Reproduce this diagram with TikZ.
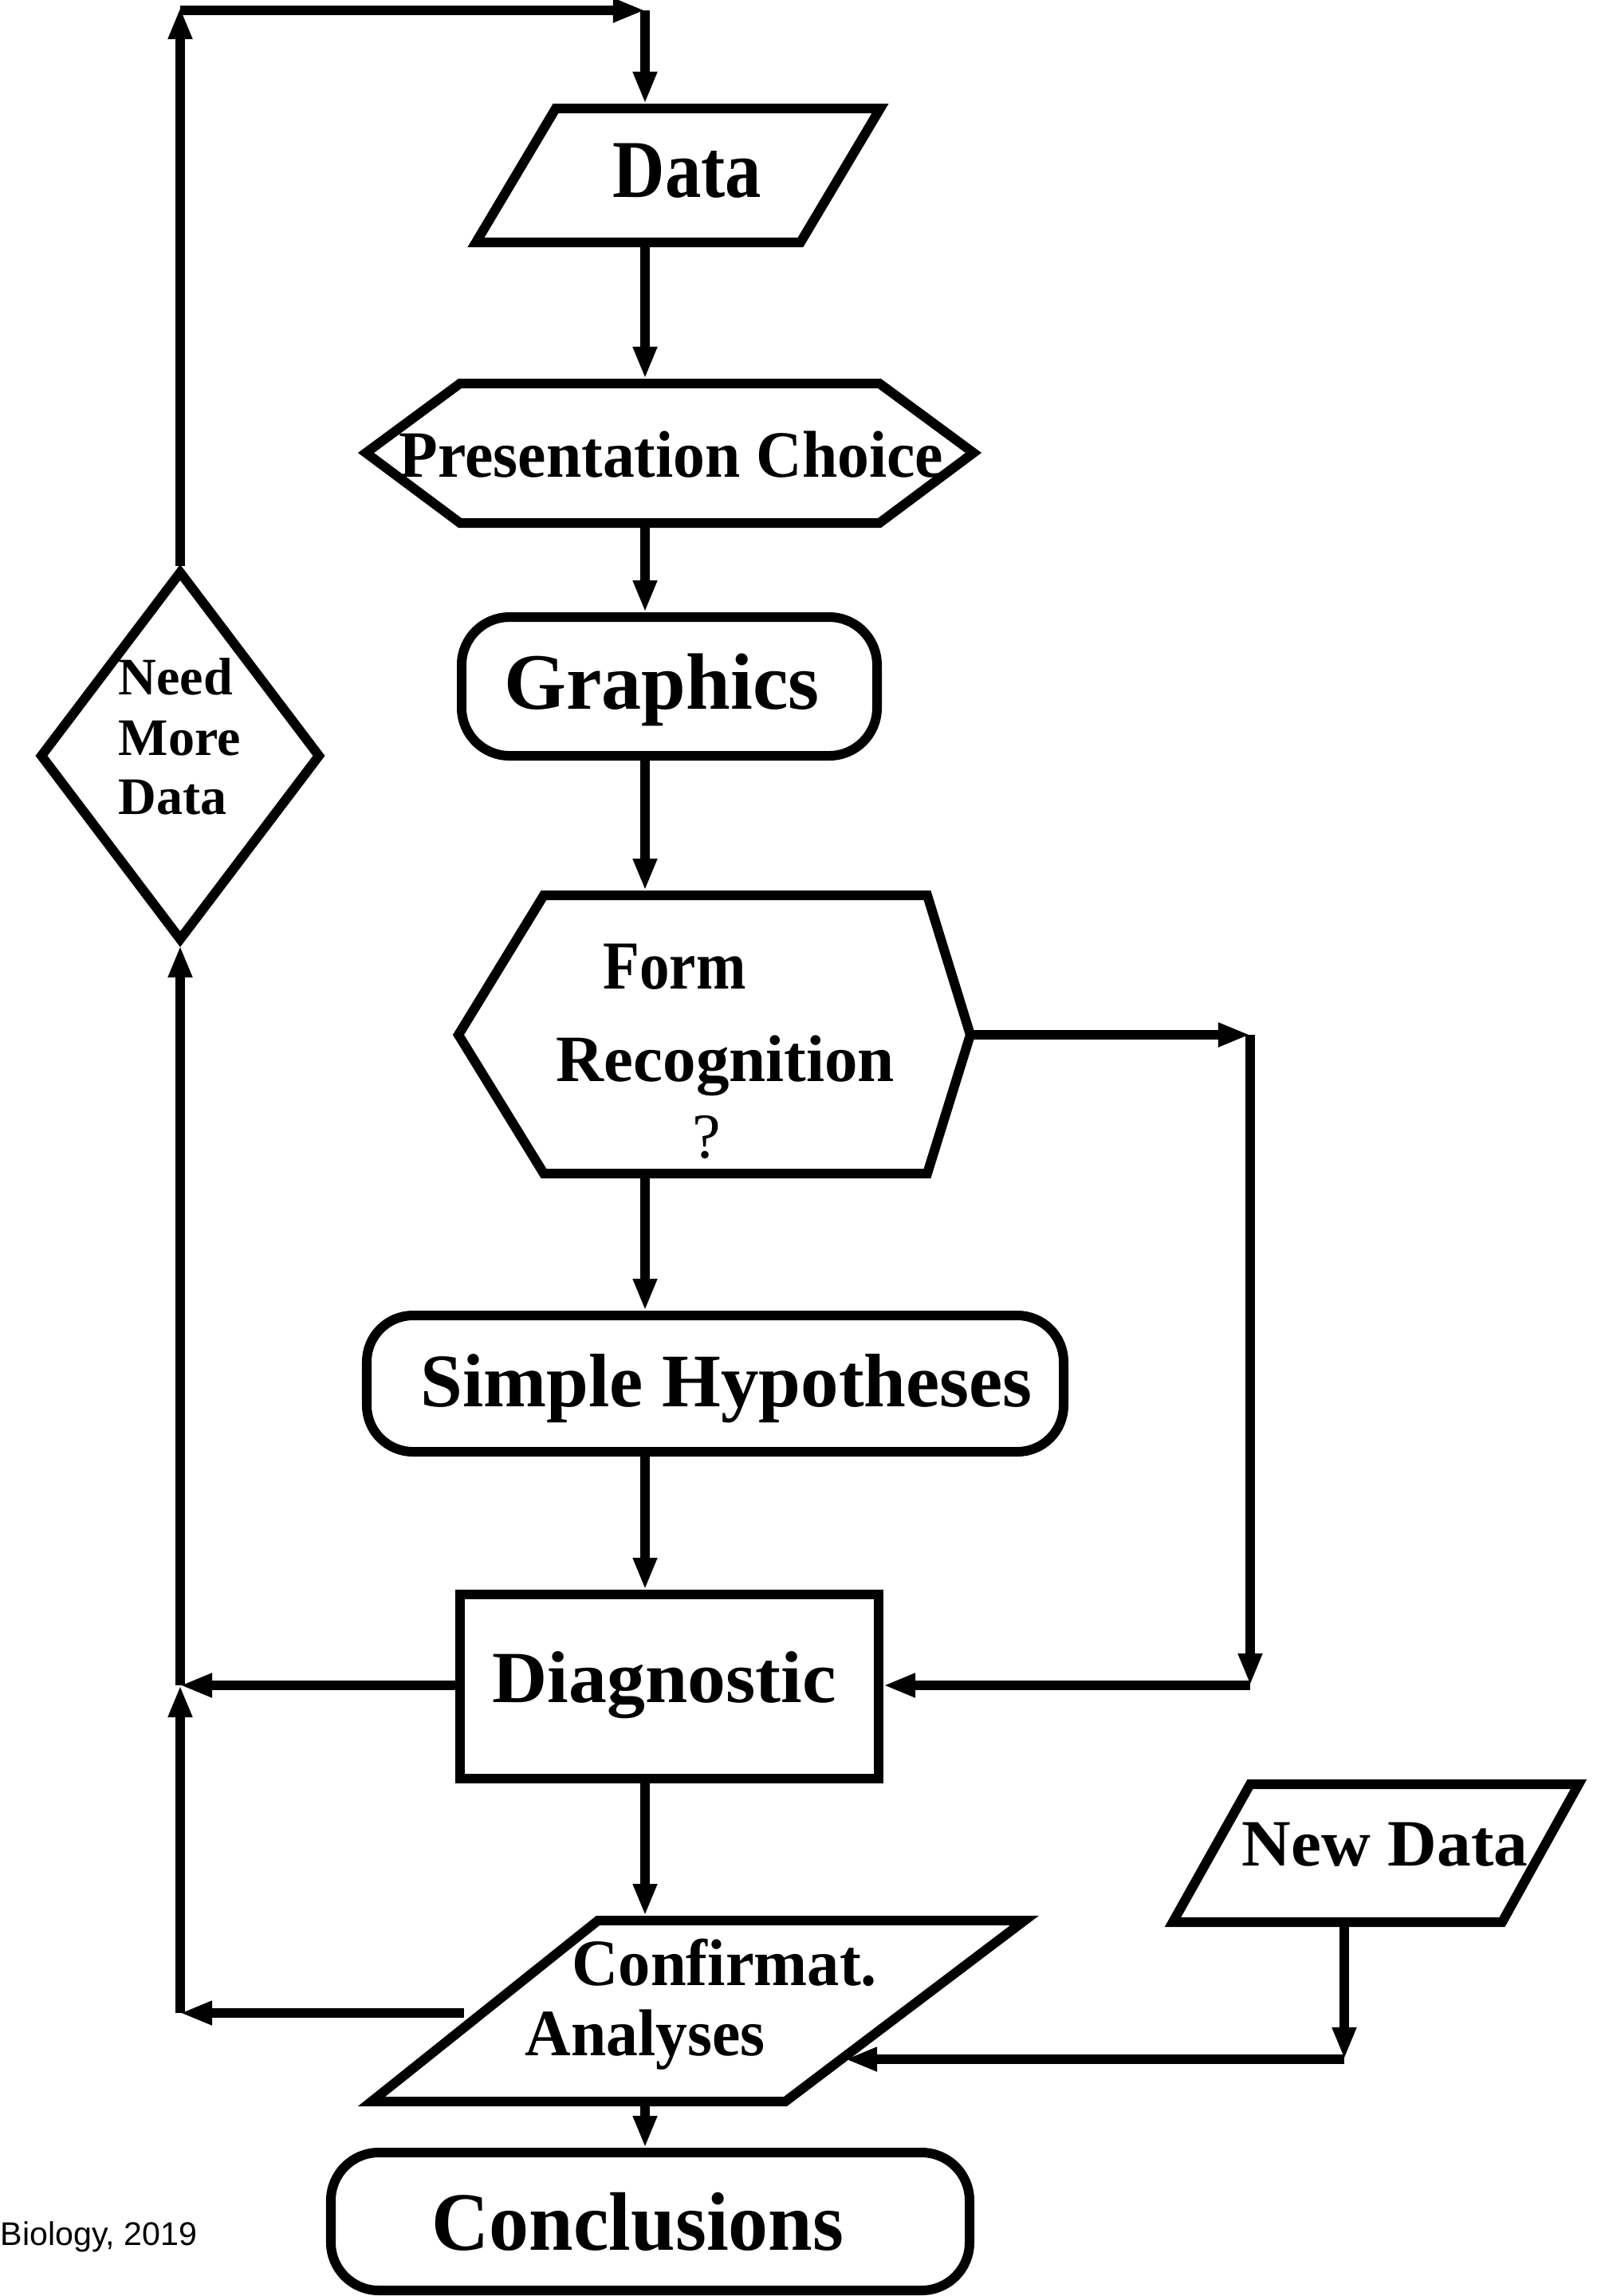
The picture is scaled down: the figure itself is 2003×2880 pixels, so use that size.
\documentclass[tikz,border=0pt]{standalone}
\usepackage{fontspec}
\usepackage{graphicx}
\setmainfont{Liberation Serif}
\newfontfamily\biofont{Liberation Sans}
\usetikzlibrary{arrows.meta}
\begin{document}
\begin{tikzpicture}[x=0.01cm,y=-0.01cm,
  shapeline/.style={draw=black, line width=0.12cm, line join=miter},
  arr/.style={draw=black, line width=0.12cm, -{Triangle[length=0.4cm,width=0.28cm]}},
  lbl/.style={inner sep=0pt, anchor=base, font=\bfseries\fontsize{#1}{#1}\selectfont},
  lblw/.style={inner sep=0pt, anchor=base west, font=\bfseries\fontsize{#1}{#1}\selectfont}
]
\useasboundingbox (0,0) rectangle (2003,2880);

% ---------- shapes ----------
% Data
\draw[shapeline] (697,136) -- (1104,136) -- (1004,304) -- (597,304) -- cycle;
% Presentation Choice
\draw[shapeline] (459,568) -- (577,481) -- (1103,481) -- (1221,568) -- (1103,656) -- (577,656) -- cycle;
% Graphics
\draw[shapeline, rounded corners=0.6cm] (579,774) rectangle (1100,948);
% Need More Data diamond
\draw[shapeline] (226,718) -- (400,948) -- (226,1178) -- (52,948) -- cycle;
% Form Recognition
\draw[shapeline] (682,1123) -- (1163,1123) -- (1217,1298) -- (1163,1472) -- (682,1472) -- (575,1298) -- cycle;
% Simple Hypotheses
\draw[shapeline, rounded corners=0.58cm] (460,1650) rectangle (1334,1821);
% Diagnostic
\draw[shapeline] (577,2000) rectangle (1102,2231);
% New Data
\draw[shapeline] (1568,2238) -- (1980,2238) -- (1884,2411) -- (1471,2411) -- cycle;
% Confirmat. Analyses
\draw[shapeline] (750,2409) -- (1285,2409) -- (985,2636) -- (466,2636) -- cycle;
% Conclusions
\draw[shapeline, rounded corners=0.6cm] (415,2700) rectangle (1216,2873);

% ---------- texts ----------
\node[lbl=29.3] (data) at (862,247) {\scalebox{0.88}[1]{Data}};
\node[lbl=23.6] (pc) at (842,598) {\scalebox{0.96}[1]{Presentation Choice}};
\node[lbl=28.5] (gr) at (830,889) {Graphics};
\node[lblw=18.8] (nm1) at (148,871) {Need};
\node[lblw=18.8] (nm2) at (148,947) {More};
\node[lblw=18.8] (nm3) at (148,1021) {Data};
\node[lbl=24.5] (fr1) at (846,1240) {\scalebox{0.87}[1]{Form}};
\node[lbl=23.6] (fr2) at (910,1356) {Recognition};
\node[inner sep=0pt, anchor=base, font=\fontsize{22.8}{22.8}\selectfont] (fr3) at (886,1452) {?};
\node[lbl=27] (sh) at (911,1764) {Simple Hypotheses};
\node[lbl=26.2] (dg) at (833,2135) {\scalebox{1.04}[1]{Diagnostic}};
\node[lbl=23.6] (nd) at (1737,2340) {\scalebox{1.03}[1]{New Data}};
\node[lblw=23.6] (ca1) at (717,2490) {\scalebox{0.97}[1]{Confirmat.}};
\node[lblw=23.6] (ca2) at (658,2578) {\scalebox{0.96}[1]{Analyses}};
\node[lbl=29.6] (cc) at (800,2822) {\scalebox{0.96}[1]{Conclusions}};
\node[inner sep=0pt, anchor=base west, font=\biofont\fontsize{11.7}{11.7}\selectfont] (credit) at (0,2816) {Biology, 2019};

% ---------- connection points ----------
\coordinate (dataN) at (809,130);
\coordinate (dataS) at (809,310);
\coordinate (pcN) at (809,475);
\coordinate (pcS) at (809,662);
\coordinate (grN) at (809,768);
\coordinate (grS) at (809,954);
\coordinate (frN) at (809,1117);
\coordinate (frS) at (809,1478);
\coordinate (frE) at (1217,1298);
\coordinate (shN) at (809,1644);
\coordinate (shS) at (809,1827);
\coordinate (dgN) at (809,1994);
\coordinate (dgS) at (809,2237);
\coordinate (dgW) at (571,2114);
\coordinate (dgE) at (1108,2114);
\coordinate (caN) at (809,2403);
\coordinate (caS) at (809,2642);
\coordinate (caW) at (582,2525);
\coordinate (caE) at (1060,2583);
\coordinate (ccN) at (809,2694);
\coordinate (ndS) at (1686,2417);
\coordinate (nmN) at (226,710);
\coordinate (nmS) at (226,1186);
% corners of the loops
\coordinate (topL) at (226,9);
\coordinate (topLh) at (226,13);
\coordinate (topR) at (809,13);
\coordinate (rTop) at (1568,1298);
\coordinate (rBot) at (1568,2114);
\coordinate (lMid) at (226,2114);
\coordinate (lBot) at (226,2525);
\coordinate (ndC) at (1686,2583);

% ---------- connectors ----------
\draw[arr] (dataS) -- (pcN);
\draw[arr] (pcS) -- (grN);
\draw[arr] (grS) -- (frN);
\draw[arr] (frS) -- (shN);
\draw[arr] (shS) -- (dgN);
\draw[arr] (dgS) -- (caN);
\draw[arr] (caS) -- (ccN);
% top loop
\draw[arr] (nmN) -- (topL);
\draw[arr] (topLh) -- (topR);
\draw[arr] (topR) -- (dataN);
% right loop
\draw[arr] (frE) -- (rTop);
\draw[arr] (rTop) -- (rBot);
\draw[arr] (rBot) -- (dgE);
% left loop
\draw[arr] (dgW) -- (lMid);
\draw[arr] (caW) -- (lBot);
\draw[arr] (lBot) -- (lMid);
\draw[arr] (lMid) -- (nmS);
% new data
\draw[arr] (ndS) -- (ndC);
\draw[arr] (ndC) -- (caE);
\end{tikzpicture}
\end{document}
